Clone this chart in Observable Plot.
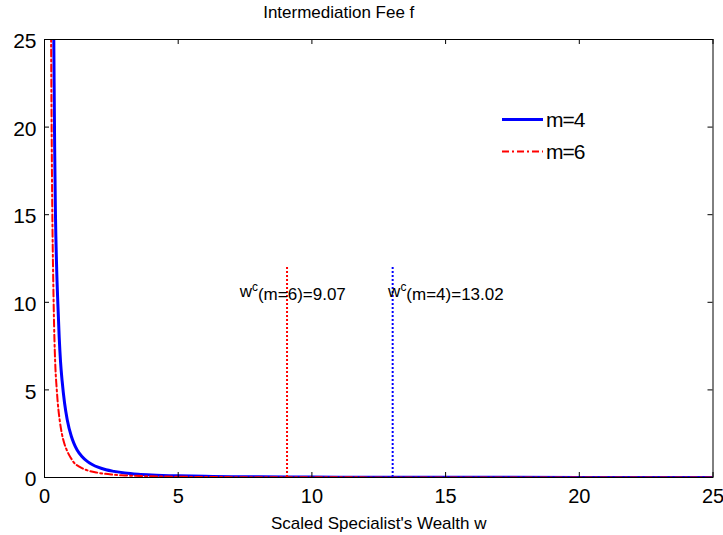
<!DOCTYPE html>
<html>
<head>
<meta charset="utf-8">
<script src="https://cdn.jsdelivr.net/npm/d3@7"></script>
<script src="https://cdn.jsdelivr.net/npm/@observablehq/plot@0.6"></script>
<style>
  html, body { margin: 0; padding: 0; background: white; }
  #chart { width: 723px; height: 535px; }
</style>
</head>
<body>
<div id="chart"></div>
<script>
// ---- data ----
const titleText = "Intermediation Fee f";
const xLabelText = "Scaled Specialist's Wealth w";
const xTicks = [0, 5, 10, 15, 20, 25];
const yTicks = [0, 5, 10, 15, 20, 25];

const seriesNames = ["m=4", "m=6"];

const wM4 = [0.34, 0.36, 0.38, 0.41, 0.45, 0.5, 0.55, 0.6, 0.66, 0.75, 0.85, 1.0, 1.1, 1.22, 1.4, 1.6, 1.8, 2.0, 2.3, 2.6, 3.0, 3.5, 4, 5, 6, 7, 8, 10, 12, 15, 20, 25];
const fM4 = [26.5, 22.5, 18.8, 15.0, 12.2, 9.9, 8.0, 6.6, 5.5, 4.25, 3.3, 2.37, 1.95, 1.57, 1.2, 0.92, 0.73, 0.59, 0.44, 0.35, 0.26, 0.19, 0.145, 0.093, 0.065, 0.048, 0.037, 0.024, 0.016, 0.01, 0.006, 0.004];

const wM6 = [0.24, 0.26, 0.28, 0.30, 0.33, 0.36, 0.41, 0.45, 0.5, 0.57, 0.65, 0.75, 0.85, 1.0, 1.1, 1.3, 1.6, 2.0, 2.5, 3, 4, 5, 6, 8, 10, 12, 15, 20, 25];
const fM6 = [27, 21.5, 17.2, 14.1, 11.0, 8.6, 6.2, 5.2, 4.2, 3.25, 2.5, 1.9, 1.5, 1.08, 0.85, 0.62, 0.41, 0.27, 0.17, 0.12, 0.066, 0.042, 0.029, 0.017, 0.011, 0.007, 0.005, 0.003, 0.002];

// critical wealth markers
const wcValues = [9.07, 13.02];
const wcTop = [12, 12];
const wcLabels = ["w^c(m=6)=9.07", "w^c(m=4)=13.02"];
const wcLabelX = [7.3, 12.85];
const wcLabelY = [10.3, 10.3];
const wcColors = ["#ff0000", "#0000ff"];

// ---- build tables ----
const m4 = wM4.map((w, i) => ({w, f: fM4[i]}));
const m6 = wM6.map((w, i) => ({w, f: fM6[i]}));
const wc = wcValues.map((w, i) => ({w, top: wcTop[i], label: wcLabels[i], lx: wcLabelX[i], ly: wcLabelY[i], color: wcColors[i]}));

const FONT = "'Liberation Sans', Arial, Helvetica, sans-serif";

const svg = Plot.plot({
  width: 723,
  height: 535,
  marginLeft: 44,
  marginRight: 10.5,
  marginTop: 39,
  marginBottom: 58,
  x: {domain: [0, 25], axis: null},
  y: {domain: [0, 25], axis: null},
  style: {fontFamily: FONT, background: "white", color: "black", overflow: "visible"},
  marks: [
    // curves
    Plot.line(m4, {x: "w", y: "f", stroke: "#0000ff", strokeWidth: 3, clip: true, curve: "monotone-x"}),
    Plot.line(m6, {x: "w", y: "f", stroke: "#ff0000", strokeWidth: 2, strokeDasharray: "7,3,2,3", clip: true, curve: "monotone-x"}),
    // critical wealth lines
    Plot.ruleX(wc, {x: "w", y1: 0, y2: "top", stroke: "color", strokeWidth: 2, strokeDasharray: "2,2"}),
    Plot.text(wc, {x: "lx", y: "ly", text: "label", textAnchor: "start", lineAnchor: "bottom", fontSize: 17, fill: "black", letterSpacing: "-0.6px"}),
    // frame
    Plot.frame({stroke: "black", strokeWidth: 1}),
    // inward ticks
    Plot.ruleX(xTicks, {x: d => d, y1: 0, y2: 0, insetBottom: 5, stroke: "black", strokeWidth: 1}),
    Plot.ruleX(xTicks, {x: d => d, y1: 25, y2: 25, insetBottom: -5, stroke: "black", strokeWidth: 1}),
    Plot.ruleY(yTicks, {y: d => d, x1: 0, x2: 0, insetRight: -5, stroke: "black", strokeWidth: 1}),
    Plot.ruleY(yTicks, {y: d => d, x1: 25, x2: 25, insetLeft: -5, stroke: "black", strokeWidth: 1}),
    // tick labels
    Plot.text(xTicks, {x: d => d, frameAnchor: "bottom", text: d => String(d), lineAnchor: "top", dy: 11, fontSize: 20, letterSpacing: "-1.5px", fill: "black"}),
    Plot.text(yTicks, {y: d => d, frameAnchor: "left", text: d => String(d), textAnchor: "end", dx: -8, dy: 2, fontSize: 21, letterSpacing: "-1px", fill: "black"}),
    // title and axis label
    Plot.text([titleText], {frameAnchor: "top", text: d => d, lineAnchor: "bottom", dx: -40, dy: -22, fontSize: 17, letterSpacing: "-0.6px", fill: "black"}),
    Plot.text([xLabelText], {frameAnchor: "bottom", text: d => d, lineAnchor: "bottom", dy: 51, fontSize: 17, letterSpacing: "-0.6px", fill: "black"})
  ]
});

// superscript "c" in the annotations
d3.select(svg).selectAll("text").each(function () {
  const t = this.textContent;
  if (t.includes("^c")) {
    const [a, b] = t.split("^c");
    const sel = d3.select(this);
    sel.text(null);
    sel.append("tspan").text(a);
    sel.append("tspan").attr("dy", "-0.5em").attr("font-size", "0.7em").text("c");
    sel.append("tspan").attr("dy", "0.5em").text(b);
  }
});

// legend (inside the plot, top right, no box)
const legendItems = [
  {name: seriesNames[0], stroke: "#0000ff", width: 3, dash: null, y: 119.5},
  {name: seriesNames[1], stroke: "#ff0000", width: 2, dash: "7,3,2,3", y: 151.5}
];
const lg = d3.select(svg).append("g").attr("font-family", FONT).attr("text-anchor", "start");
legendItems.forEach(it => {
  lg.append("line")
    .attr("x1", 502).attr("x2", 543).attr("y1", it.y).attr("y2", it.y)
    .attr("stroke", it.stroke).attr("stroke-width", it.width)
    .attr("stroke-dasharray", it.dash);
  lg.append("text")
    .attr("x", 546).attr("y", it.y).attr("dy", "0.35em")
    .attr("text-anchor", "start")
    .attr("font-size", 21).attr("letter-spacing", "-1px").attr("fill", "black")
    .text(it.name);
});

document.getElementById("chart").appendChild(svg);
</script>
</body>
</html>
